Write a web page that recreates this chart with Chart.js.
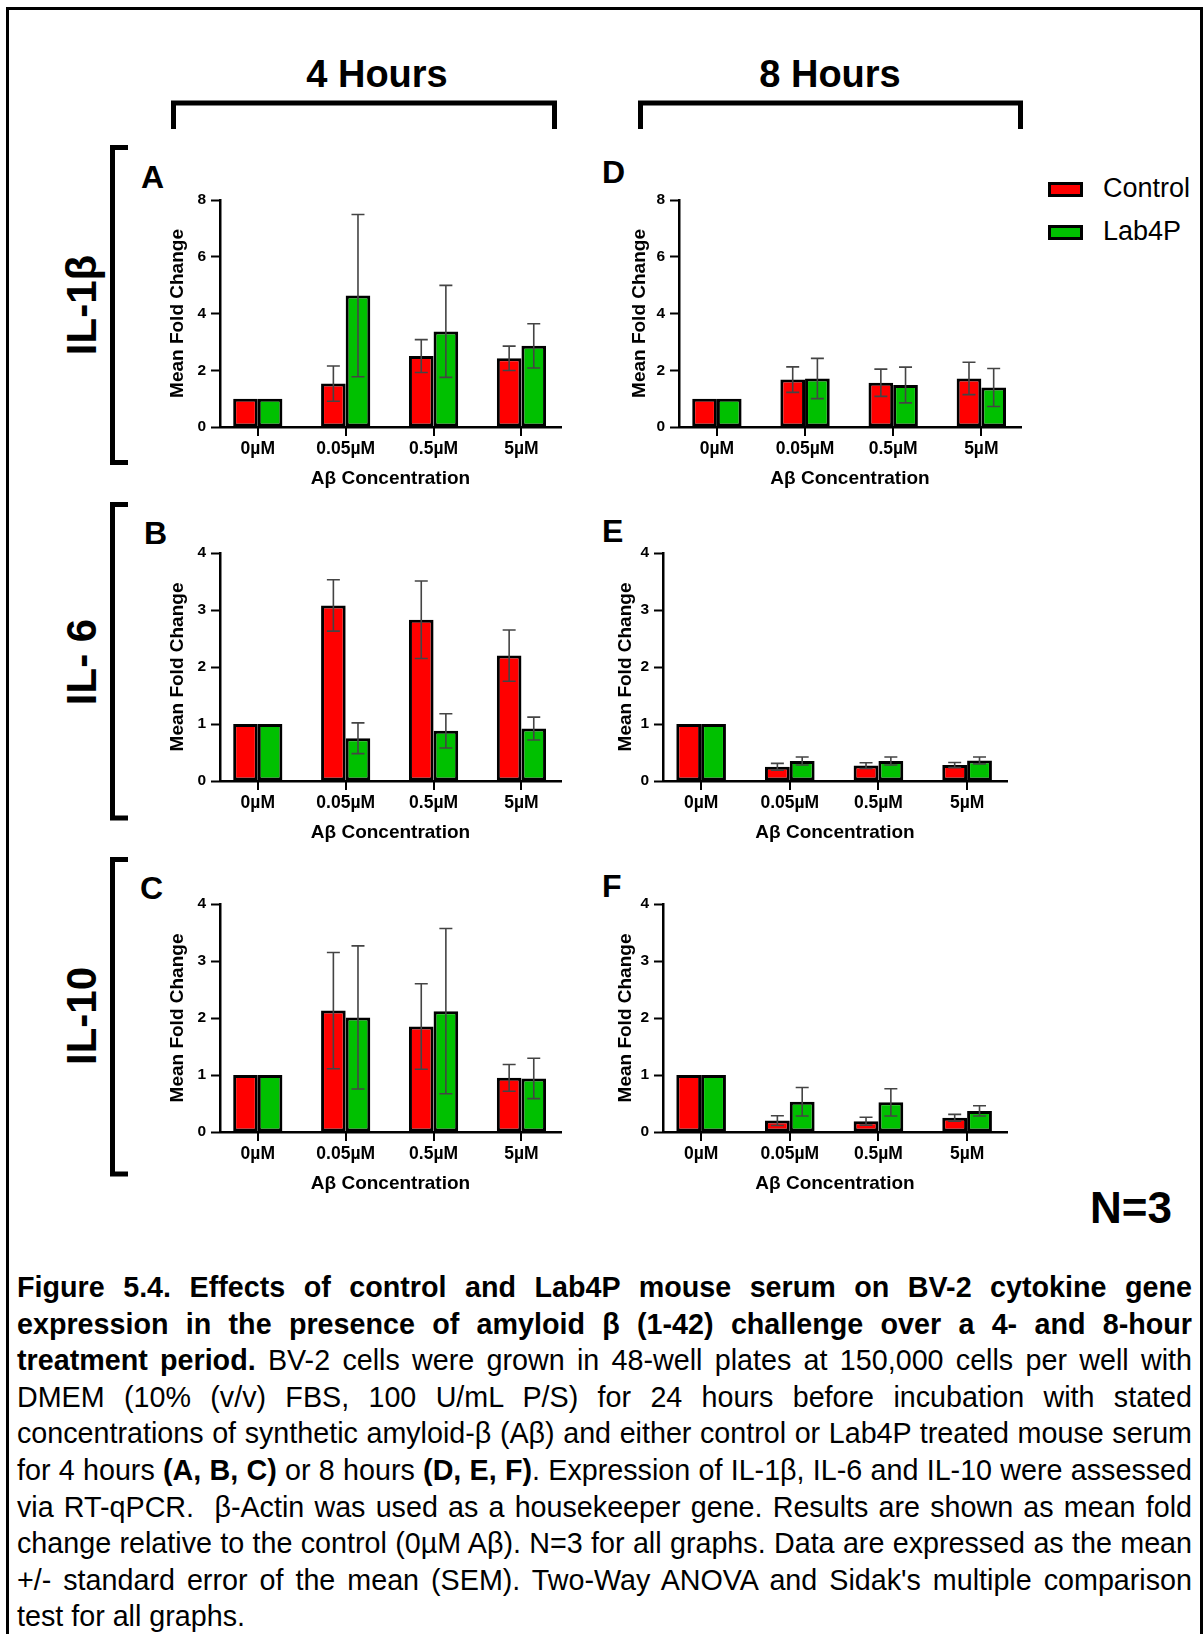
<!DOCTYPE html>
<html>
<head>
<meta charset="utf-8">
<script src="https://cdn.jsdelivr.net/npm/chart.js@4.4.0/dist/chart.umd.min.js"></script>
<style>
html, body { margin: 0; padding: 0; overflow: hidden; background: #fff; }
#page { position: relative; width: 1204px; height: 1634px; font-family: "Liberation Sans", Arial, sans-serif; color: #000; }
#frame { position: absolute; left: 6px; top: 7px; width: 1197px; height: 1700px; border: 3px solid #000; box-sizing: border-box; }
canvas { position: absolute; }
#overlay { position: absolute; left: 0; top: 0; }
.cap { position: absolute; left: 17px; width: 1175px; font-size: 28.7px; line-height: 36.6px; text-align: justify; text-align-last: justify; }
.cap.last { text-align-last: left; }
</style>
</head>
<body>
<div id="page">
  <div id="frame"></div>
  <svg id="overlay" width="1204" height="1634" font-family="Liberation Sans, Arial, sans-serif">
    <text x="377" y="87" font-size="38" font-weight="bold" text-anchor="middle">4 Hours</text>
    <text x="830" y="87" font-size="38" font-weight="bold" text-anchor="middle">8 Hours</text>
    <path d="M173.5 129 V103 H554.5 V129" fill="none" stroke="#000" stroke-width="5"/>
    <path d="M640.5 129 V103 H1020.5 V129" fill="none" stroke="#000" stroke-width="5"/>

    <path d="M128 147.5 H112.5 V462.5 H128" fill="none" stroke="#000" stroke-width="5"/>
    <path d="M128 504.5 H112.5 V818 H128" fill="none" stroke="#000" stroke-width="5"/>
    <path d="M128 859.5 H112.5 V1174 H128" fill="none" stroke="#000" stroke-width="5"/>

    <text transform="translate(96,305) rotate(-90)" font-size="42" font-weight="bold" text-anchor="middle">IL-1β</text>
    <text transform="translate(96,662) rotate(-90)" font-size="42" font-weight="bold" text-anchor="middle">IL- 6</text>
    <text transform="translate(96,1016) rotate(-90)" font-size="42" font-weight="bold" text-anchor="middle">IL-10</text>

    <text x="141" y="188" font-size="32" font-weight="bold">A</text>
    <text x="602" y="183" font-size="32" font-weight="bold">D</text>
    <text x="144" y="544" font-size="32" font-weight="bold">B</text>
    <text x="602" y="542" font-size="32" font-weight="bold">E</text>
    <text x="140" y="899" font-size="32" font-weight="bold">C</text>
    <text x="602" y="897" font-size="32" font-weight="bold">F</text>

    <text x="1172" y="1223" font-size="44" font-weight="bold" text-anchor="end">N=3</text>
    <g id="legend"></g>
  </svg>

  <canvas id="chartA"></canvas>
  <canvas id="chartB"></canvas>
  <canvas id="chartC"></canvas>
  <canvas id="chartD"></canvas>
  <canvas id="chartE"></canvas>
  <canvas id="chartF"></canvas>

  <div class="cap" style="top:1269px"><b>Figure 5.4. Effects of control and Lab4P mouse serum on BV-2 cytokine gene</b></div>
  <div class="cap" style="top:1305.6px"><b>expression in the presence of amyloid β (1-42) challenge over a 4- and 8-hour</b></div>
  <div class="cap" style="top:1342.2px"><b>treatment period.</b> BV-2 cells were grown in 48-well plates at 150,000 cells per well with</div>
  <div class="cap" style="top:1378.8px">DMEM (10% (v/v) FBS, 100 U/mL P/S) for 24 hours before incubation with stated</div>
  <div class="cap" style="top:1415.4px">concentrations of synthetic amyloid-β (Aβ) and either control or Lab4P treated mouse serum</div>
  <div class="cap" style="top:1452px">for 4 hours <b>(A, B, C)</b> or 8 hours <b>(D, E, F)</b>. Expression of IL-1β, IL-6 and IL-10 were assessed</div>
  <div class="cap" style="top:1488.6px">via RT-qPCR.&nbsp; β-Actin was used as a housekeeper gene. Results are shown as mean fold</div>
  <div class="cap" style="top:1525.2px">change relative to the control (0µM Aβ). N=3 for all graphs. Data are expressed as the mean</div>
  <div class="cap" style="top:1561.8px">+/- standard error of the mean (SEM). Two-Way ANOVA and Sidak's multiple comparison</div>
  <div class="cap last" style="top:1598.4px">test for all graphs.</div>
</div>

<script>
var categories = ['0µM', '0.05µM', '0.5µM', '5µM'];
var seriesNames = ['Control', 'Lab4P'];
var seriesColors = ['#ff0000', '#00c000'];

// IL-1β, 4 hours (A)
var il1b4hControl    = [1, 1.53, 2.50, 2.42];
var il1b4hControlSem = [0, 0.62, 0.58, 0.43];
var il1b4hLab4P      = [1, 4.63, 3.37, 2.86];
var il1b4hLab4PSem   = [0, 2.86, 1.62, 0.78];

// IL-1β, 8 hours (D)
var il1b8hControl    = [1, 1.67, 1.56, 1.71];
var il1b8hControlSem = [0, 0.45, 0.48, 0.57];
var il1b8hLab4P      = [1, 1.71, 1.48, 1.39];
var il1b8hLab4PSem   = [0, 0.71, 0.63, 0.67];

// IL-6, 4 hours (B)
var il6_4hControl    = [1, 3.08, 2.83, 2.20];
var il6_4hControlSem = [0, 0.45, 0.68, 0.45];
var il6_4hLab4P      = [1, 0.75, 0.88, 0.92];
var il6_4hLab4PSem   = [0, 0.27, 0.30, 0.20];

// IL-6, 8 hours (E)
var il6_8hControl    = [1, 0.25, 0.27, 0.28];
var il6_8hControlSem = [0, 0.06, 0.05, 0.045];
var il6_8hLab4P      = [1, 0.35, 0.35, 0.36];
var il6_8hLab4PSem   = [0, 0.07, 0.07, 0.06];

// IL-10, 4 hours (C)
var il10_4hControl    = [1, 2.13, 1.85, 0.95];
var il10_4hControlSem = [0, 1.02, 0.75, 0.235];
var il10_4hLab4P      = [1, 2.01, 2.12, 0.94];
var il10_4hLab4PSem   = [0, 1.255, 1.45, 0.355];

// IL-10, 8 hours (F)
var il10_8hControl    = [1, 0.20, 0.19, 0.25];
var il10_8hControlSem = [0, 0.085, 0.07, 0.06];
var il10_8hLab4P      = [1, 0.53, 0.52, 0.37];
var il10_8hLab4PSem   = [0, 0.25, 0.24, 0.09];

var yMaxIL1b = 8, yStepIL1b = 2;
var yMaxOther = 4, yStepOther = 1;

var FONT = "'Liberation Sans', Arial, sans-serif";
Chart.defaults.font.family = FONT;
Chart.defaults.color = '#000';

// error bars (SEM) drawn from each bar's own position on the value scale
var errorBars = {
    id: 'errorBars',
    afterDatasetsDraw: function(chart) {
        var ctx = chart.ctx, y = chart.scales.y;
        ctx.save();
        ctx.strokeStyle = '#444';
        ctx.lineWidth = 1.6;
        chart.data.datasets.forEach(function(ds, i) {
            chart.getDatasetMeta(i).data.forEach(function(bar, j) {
                var e = ds.sem[j];
                if (!e) return;
                var v = ds.data[j];
                var top = y.getPixelForValue(v + e), bot = y.getPixelForValue(v - e);
                ctx.beginPath();
                ctx.moveTo(bar.x, top); ctx.lineTo(bar.x, bot);
                ctx.moveTo(bar.x - 6.5, top); ctx.lineTo(bar.x + 6.5, top);
                ctx.moveTo(bar.x - 6.5, bot); ctx.lineTo(bar.x + 6.5, bot);
                ctx.stroke();
            });
        });
        ctx.restore();
    }
};

// tick marks under each category centre, placed by the x scale
var catTicks = {
    id: 'catTicks',
    afterDraw: function(chart) {
        var ctx = chart.ctx, x = chart.scales.x, b = chart.chartArea.bottom;
        ctx.save();
        ctx.strokeStyle = '#000';
        ctx.lineWidth = 2;
        catIndex.forEach(function(v) {
            var px = Math.round(x.getPixelForValue(v));
            ctx.beginPath();
            ctx.moveTo(px, b);
            ctx.lineTo(px, b + 9);
            ctx.stroke();
        });
        ctx.restore();
    }
};

// plot area boxes in page pixels: [left, top, right, bottom]; gap = y title centre distance from axis
var panels = [
    { id: 'chartA', c: il1b4hControl, cs: il1b4hControlSem, l: il1b4hLab4P, ls: il1b4hLab4PSem, max: yMaxIL1b, step: yStepIL1b, box: [220, 200, 561, 427], gap: 42 },
    { id: 'chartD', c: il1b8hControl, cs: il1b8hControlSem, l: il1b8hLab4P, ls: il1b8hLab4PSem, max: yMaxIL1b, step: yStepIL1b, box: [679, 200, 1021, 427], gap: 39 },
    { id: 'chartB', c: il6_4hControl, cs: il6_4hControlSem, l: il6_4hLab4P, ls: il6_4hLab4PSem, max: yMaxOther, step: yStepOther, box: [220, 553, 561, 781], gap: 42 },
    { id: 'chartE', c: il6_8hControl, cs: il6_8hControlSem, l: il6_8hLab4P, ls: il6_8hLab4PSem, max: yMaxOther, step: yStepOther, box: [663, 553, 1007, 781], gap: 37.5 },
    { id: 'chartC', c: il10_4hControl, cs: il10_4hControlSem, l: il10_4hLab4P, ls: il10_4hLab4PSem, max: yMaxOther, step: yStepOther, box: [220, 904, 561, 1132], gap: 42 },
    { id: 'chartF', c: il10_8hControl, cs: il10_8hControlSem, l: il10_8hLab4P, ls: il10_8hLab4PSem, max: yMaxOther, step: yStepOther, box: [663, 904, 1007, 1132], gap: 37.5 }
];

var Y_W = 70, X_H = 64, PAD_T = 15, PAD_R = 15;
// categories sit on an index axis with a little more room at the ends than Chart.js's default offset
var X_MIN = -0.43, X_MAX = 3.45;
var catIndex = categories.map(function(_, i) { return i; });

panels.forEach(function(p) {
    var cv = document.getElementById(p.id);
    var w = p.box[2] - p.box[0] + Y_W + PAD_R;
    var h = p.box[3] - p.box[1] + PAD_T + X_H;
    cv.width = w; cv.height = h;
    cv.style.left = (p.box[0] - Y_W) + 'px';
    cv.style.top = (p.box[1] - PAD_T) + 'px';
    cv.style.width = w + 'px'; cv.style.height = h + 'px';

    var barStyle = { borderColor: '#000', borderWidth: 3, borderSkipped: false, categoryPercentage: 0.56, barPercentage: 1 };
    new Chart(cv.getContext('2d'), {
        type: 'bar',
        data: {
            labels: catIndex,
            datasets: [
                Object.assign({ label: seriesNames[0], data: p.c, sem: p.cs, backgroundColor: seriesColors[0] }, barStyle),
                Object.assign({ label: seriesNames[1], data: p.l, sem: p.ls, backgroundColor: seriesColors[1] }, barStyle)
            ]
        },
        options: {
            responsive: false,
            animation: false,
            devicePixelRatio: 1,
            layout: { padding: { top: PAD_T, right: PAD_R, left: 0, bottom: 0 } },
            plugins: { legend: { display: false }, tooltip: { enabled: false } },
            scales: {
                x: {
                    type: 'linear', min: X_MIN, max: X_MAX, offset: false,
                    afterBuildTicks: function(s) { s.ticks = catIndex.map(function(v) { return { value: v }; }); },
                    grid: { display: false, offset: false, drawTicks: true, tickLength: 9, color: 'rgba(0,0,0,0)', tickColor: 'rgba(0,0,0,0)' },
                    border: { display: true, color: '#000', width: 2.5 },
                    ticks: {
                        stepSize: 1, autoSkip: false, color: '#000', padding: 3, maxRotation: 0,
                        font: { size: 17.5, weight: 'bold' },
                        callback: function(v) { return categories[v]; }
                    },
                    title: { display: true, text: 'Aβ Concentration', color: '#000', font: { size: 19, weight: 'bold' }, padding: { top: 0, bottom: 1 } },
                    afterFit: function(s) { s.height = X_H; }
                },
                y: {
                    min: 0, max: p.max,
                    grid: { drawOnChartArea: false, tickLength: 9, tickWidth: 2, tickColor: '#000' },
                    border: { color: '#000', width: 2.5 },
                    ticks: { stepSize: p.step, color: '#000', padding: 5, font: { size: 15.5, weight: 'bold' } },
                    title: { display: true, text: 'Mean Fold Change', color: '#000', font: { size: 19, weight: 'bold' }, padding: { top: Y_W - p.gap - 11.4, bottom: 0 } },
                    afterFit: function(s) { s.width = Y_W; }
                }
            }
        },
        plugins: [errorBars, catTicks]
    });
});

// legend beside panel D
var NS = 'http://www.w3.org/2000/svg';
var lg = document.getElementById('legend');
seriesNames.forEach(function(name, i) {
    var yb = 183.5 + i * 43;
    var r = document.createElementNS(NS, 'rect');
    r.setAttribute('x', 1049.5); r.setAttribute('y', yb);
    r.setAttribute('width', 32); r.setAttribute('height', 12);
    r.setAttribute('fill', seriesColors[i]); r.setAttribute('stroke', '#000'); r.setAttribute('stroke-width', 3);
    lg.appendChild(r);
    var t = document.createElementNS(NS, 'text');
    t.setAttribute('x', 1103); t.setAttribute('y', 197 + i * 43);
    t.setAttribute('font-size', 27);
    t.textContent = name;
    lg.appendChild(t);
});
</script>
</body>
</html>
